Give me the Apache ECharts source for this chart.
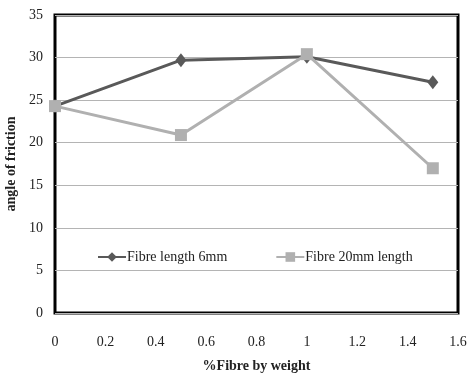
<!DOCTYPE html>
<html>
<head>
<meta charset="utf-8">
<script src="https://cdn.jsdelivr.net/npm/echarts@6/dist/echarts.min.js"></script>
<style>html,body{margin:0;padding:0;background:#fff;}#c{width:468px;height:375px;}</style>
</head>
<body>
<div id="c"></div>
<script>
const fibre = [0, 0.5, 1.0, 1.5];
const len6mm = [24.3, 29.7, 30.1, 27.1];
const len20mm = [24.3, 20.9, 30.4, 17.0];
const xTicks = [0, 0.2, 0.4, 0.6, 0.8, 1, 1.2, 1.4, 1.6];
const yTicks = [0, 5, 10, 15, 20, 25, 30, 35];
const seriesNames = ['Fibre length 6mm', 'Fibre 20mm length'];

const font = 'Liberation Serif';
const chart = echarts.init(document.getElementById('c'));
chart.setOption({
  animation: false,
  backgroundColor: '#fff',
  grid: { left: 55, right: 10, top: 15, bottom: 62, show: true, borderColor: '#000', borderWidth: 3, backgroundColor: 'transparent', outerBoundsMode: 'none', containLabel: false },
  legend: {
    top: 245, left: 92, itemGap: 48, itemWidth: 28, itemHeight: 12,
    textStyle: { fontFamily: font, fontSize: 14, color: '#222', padding: [0, 0, 0, -4] },
    data: seriesNames
  },
  xAxis: {
    type: 'value', min: 0, max: 1.6, interval: 0.2,
    axisLine: { show: false }, axisTick: { show: false }, splitLine: { show: false },
    axisLabel: { margin: 22, fontFamily: font, fontSize: 14, color: '#222',
      formatter: v => { const r = Math.round(v * 10) / 10; return xTicks.includes(r) ? String(r) : ''; } },
    name: '%Fibre by weight', nameLocation: 'middle', nameGap: 46,
    nameTextStyle: { fontFamily: font, fontSize: 14, fontWeight: 'bold', color: '#222' }
  },
  yAxis: {
    type: 'value', min: 0, max: 35, interval: 5,
    axisLine: { show: false }, axisTick: { show: false },
    splitLine: { lineStyle: { color: '#b4b4b4', width: 1 } },
    axisLabel: { margin: 12, fontFamily: font, fontSize: 14, color: '#222',
      formatter: v => yTicks.includes(v) ? String(v) : '' },
    name: 'angle of friction', nameLocation: 'middle', nameGap: 36,
    nameTextStyle: { fontFamily: font, fontSize: 14, fontWeight: 'bold', color: '#222' }
  },
  series: [
    { name: seriesNames[0], type: 'line', data: fibre.map((x, i) => [x, len6mm[i]]),
      symbol: 'diamond', symbolSize: [11, 14], z: 3,
      itemStyle: { color: '#595959' }, lineStyle: { color: '#595959', width: 3 } },
    { name: seriesNames[1], type: 'line', data: fibre.map((x, i) => [x, len20mm[i]]),
      symbol: 'rect', symbolSize: 12, z: 4,
      itemStyle: { color: '#b0b0b0' }, lineStyle: { color: '#b0b0b0', width: 3 } }
  ]
});
</script>
</body>
</html>
